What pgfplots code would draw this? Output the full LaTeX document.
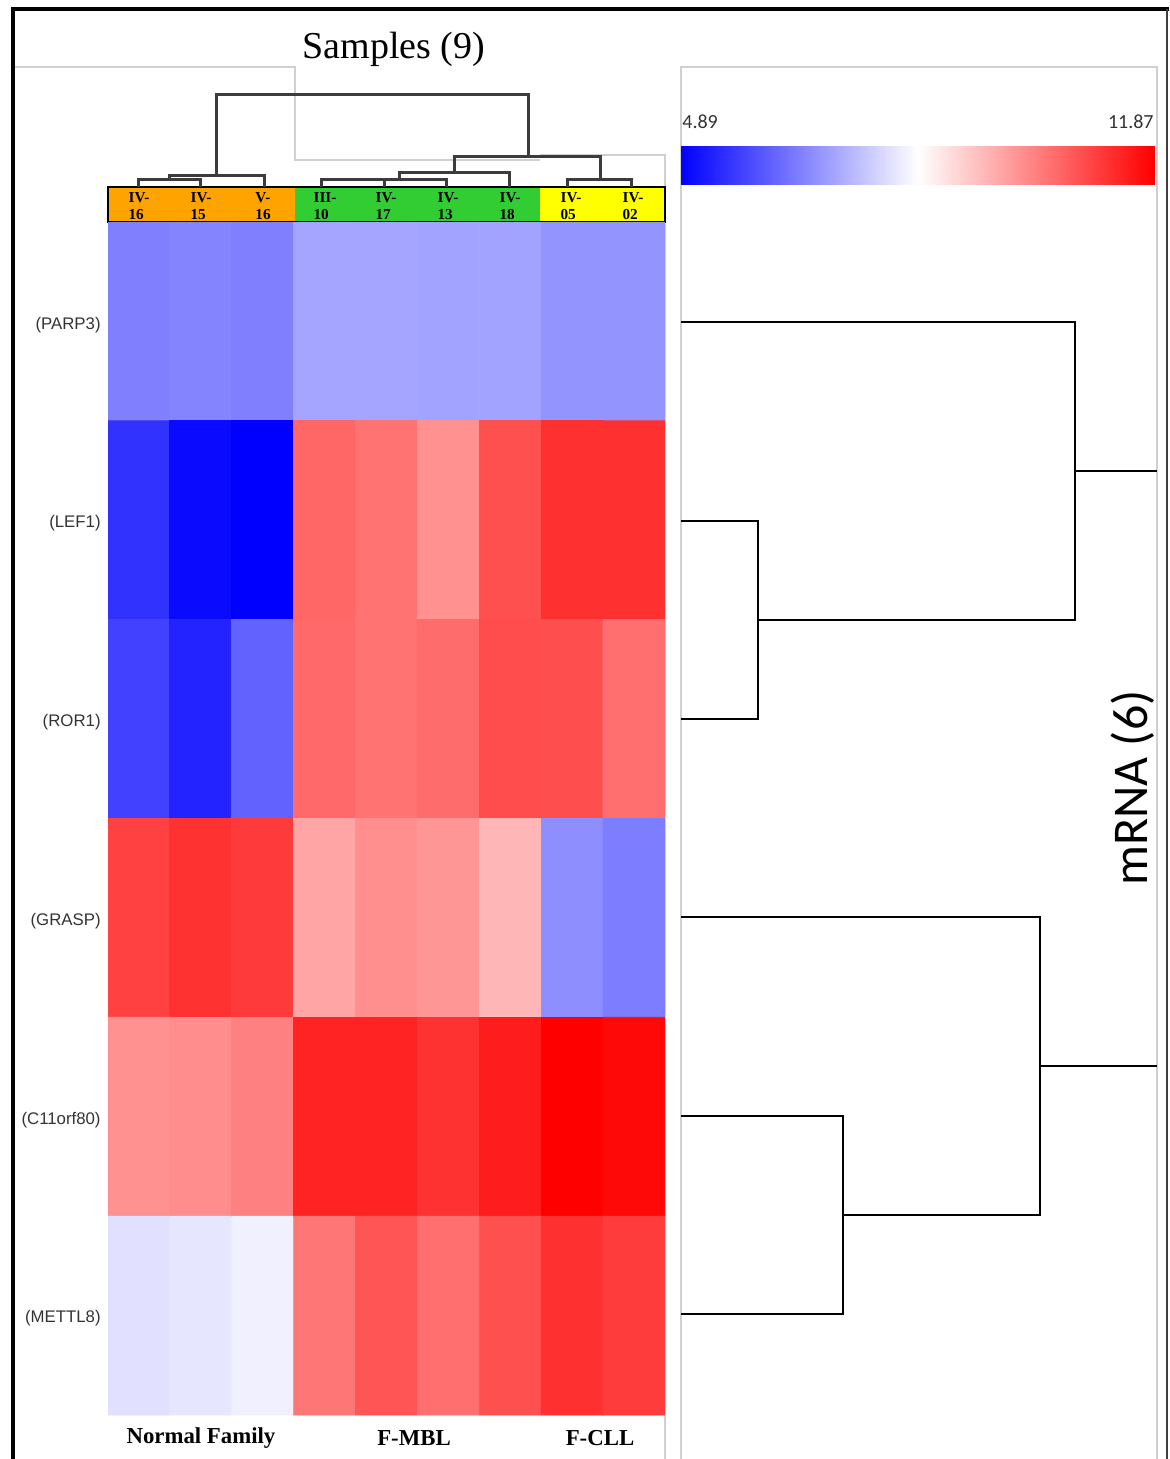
\documentclass[border=0pt]{standalone}
\usepackage{pgfplots}
\pgfplotsset{compat=1.18}
\usepackage{pgfplotstable}
\usepackage{fontspec}
\setmainfont{Liberation Serif}
\newfontfamily\arial{Liberation Sans}
\newfontfamily\calibri{Carlito}

\definecolor{grpN}{RGB}{255,163,0}
\definecolor{grpM}{RGB}{50,205,50}
\definecolor{grpC}{RGB}{255,255,0}
\definecolor{panel}{RGB}{208,208,208}
\definecolor{dend}{RGB}{60,60,60}

\pgfplotsset{
  colormap={bwr}{rgb255=(0,0,255) rgb255=(255,255,255) rgb255=(255,0,0)},
}

% expression values: x = sample column, y = gene row
\pgfplotstableread{
x y v
0 0 6.64
1 0 6.70
2 0 6.64
3 0 7.15
4 0 7.15
5 0 7.11
6 0 7.11
7 0 6.92
8 0 6.92
0 1 5.57
1 1 5.03
2 1 4.89
3 1 10.47
4 1 10.30
5 1 9.89
6 1 10.78
7 1 11.21
8 1 11.21
0 2 5.78
1 2 5.37
2 2 6.23
3 2 10.43
4 2 10.30
5 2 10.39
6 2 10.84
7 2 10.80
8 2 10.36
0 3 10.98
1 3 11.19
2 3 11.08
3 3 9.61
4 3 9.93
5 3 9.82
6 3 9.38
7 3 6.83
8 3 6.60
0 4 9.89
1 4 9.95
2 4 10.12
3 4 11.39
4 4 11.39
5 4 11.19
6 4 11.49
7 4 11.87
8 4 11.76
0 5 7.97
1 5 8.04
2 5 8.17
3 5 10.26
4 5 10.71
5 5 10.36
6 5 10.78
7 5 11.21
8 5 11.05
}\heat

\tikzset{
  slab/.style={font=\fontsize{7.6}{8.6}\selectfont\bfseries, align=left, inner sep=0pt},
  glab/.style={font=\arial\fontsize{8.4}{9}\selectfont, anchor=east, text=black!80, inner sep=0pt},
  grp/.style={font=\fontsize{11.4}{13}\selectfont\bfseries},
}

\begin{document}
\begin{tikzpicture}
% layout axis in pixel units (1 px = 0.5 pt), origin top-left
\begin{axis}[
  name=frame, at={(0,0)}, anchor=north west,
  x=0.5pt, y=0.5pt, y dir=reverse,
  xmin=0, xmax=1169, ymin=0, ymax=1459,
  hide axis, clip=false,
  dendS/.style={draw=dend, line width=1.5pt, mark=none, forget plot},
  dendG/.style={draw=black, line width=0.75pt, mark=none, forget plot},
  pan/.style={draw=panel, line width=0.6pt, mark=none, forget plot},
]
% panel outlines
\addplot[pan] coordinates {(12,67) (295,67) (295,160) (540,160)};
\addplot[pan] coordinates {(540,155) (665,155) (665,1459)};
\addplot[pan] coordinates {(681,1459) (681,67) (1157,67) (1157,1459)};
% outer frame
\addplot[draw=black, line width=2pt, mark=none, forget plot] coordinates {(13,1459) (13,9) (1169,9)};
\addplot[draw=black!75, line width=1.2pt, mark=none, forget plot] coordinates {(1167,9) (1167,1459)};

% sample group bar
\fill[grpN] (axis cs:108,187) rectangle (axis cs:295,222);
\fill[grpM] (axis cs:295,187) rectangle (axis cs:540,222);
\fill[grpC] (axis cs:540,187) rectangle (axis cs:665,222);
\draw[black, line width=1pt] (axis cs:108,187) rectangle (axis cs:665,222);

% sample dendrogram
\addplot[dendS] coordinates {(138.7,187) (138.7,179) (200.4,179) (200.4,187)};
\addplot[dendS] coordinates {(169.5,179) (169.5,175) (264.3,175) (264.3,187)};
\addplot[dendS] coordinates {(216,175) (216,94) (528.5,94) (528.5,156)};
\addplot[dendS] coordinates {(321,187) (321,179) (446,179) (446,187)};
\addplot[dendS] coordinates {(384,179) (384,187)};
\addplot[dendS] coordinates {(399,179) (399,172) (509,172) (509,187)};
\addplot[dendS] coordinates {(454,172) (454,156) (600,156) (600,179)};
\addplot[dendS] coordinates {(567.4,187) (567.4,179) (631.6,179) (631.6,187)};

% gene dendrogram
\addplot[dendG] coordinates {(681,521) (758,521) (758,719) (681,719)};
\addplot[dendG] coordinates {(681,322) (1075,322) (1075,620) (758,620)};
\addplot[dendG] coordinates {(1075,471) (1157,471)};
\addplot[dendG] coordinates {(681,1116) (843,1116) (843,1314) (681,1314)};
\addplot[dendG] coordinates {(681,917) (1040,917) (1040,1215) (843,1215)};
\addplot[dendG] coordinates {(1040,1066) (1157,1066)};

% titles and labels
\node[font=\fontsize{19}{22}\selectfont] at (axis cs:394,49) {Samples (9)};
\node[slab] at (axis cs:139,206) {IV-\\16};
\node[slab] at (axis cs:201,206) {IV-\\15};
\node[slab] at (axis cs:263,206) {V-\\16};
\node[slab] at (axis cs:325,206) {III-\\10};
\node[slab] at (axis cs:386,206) {IV-\\17};
\node[slab] at (axis cs:448,206) {IV-\\13};
\node[slab] at (axis cs:510,206) {IV-\\18};
\node[slab] at (axis cs:571,206) {IV-\\05};
\node[slab] at (axis cs:633,206) {IV-\\02};
\node[glab] at (axis cs:101,325) {(PARP3)};
\node[glab] at (axis cs:101,523) {(LEF1)};
\node[glab] at (axis cs:101,722) {(ROR1)};
\node[glab] at (axis cs:101,921) {(GRASP)};
\node[glab] at (axis cs:101,1120) {(C11orf80)};
\node[glab] at (axis cs:101,1318) {(METTL8)};
\node[grp] at (axis cs:201,1438) {Normal Family};
\node[grp] at (axis cs:414,1438) {F-MBL};
\node[grp] at (axis cs:600,1438) {F-CLL};
\node[font=\calibri\fontsize{10}{12}\selectfont, anchor=west, text=black!80, inner sep=0pt] at (axis cs:682,122) {4.89};
\node[font=\calibri\fontsize{10}{12}\selectfont, anchor=east, text=black!80, inner sep=0pt] at (axis cs:1154,122) {11.87};
\node[font=\calibri\fontsize{25}{30}\selectfont, rotate=90] at (axis cs:1133,788) {mRNA (6)};

\coordinate (hm) at (axis cs:108,222);
\coordinate (cb) at (axis cs:681,146);
\end{axis}

% heat map
\begin{axis}[
  at={(hm)}, anchor=north west,
  width=278.5pt, height=596.5pt, scale only axis,
  xmin=-0.5, xmax=8.5, ymin=-0.5, ymax=5.5, y dir=reverse,
  enlargelimits=false, hide axis,
  point meta min=4.89, point meta max=11.87,
]
\addplot[matrix plot*, mesh/cols=9, point meta=explicit, draw=none] table[x=x, y=y, meta=v] {\heat};
\end{axis}

% colour scale
\begin{axis}[
  at={(cb)}, anchor=north west,
  width=236.5pt, height=19.5pt, scale only axis,
  xmin=4.89, xmax=11.87, ymin=0, ymax=1,
  enlargelimits=false, hide axis,
  point meta min=4.89, point meta max=11.87,
]
\addplot[surf, shader=interp, mesh/rows=2, point meta=x] coordinates {
  (4.89,0) (8.38,0) (11.87,0)
  (4.89,1) (8.38,1) (11.87,1)
};
\end{axis}

\pgfresetboundingbox
\useasboundingbox (frame.north west) rectangle (frame.south east);
\end{tikzpicture}
\end{document}
